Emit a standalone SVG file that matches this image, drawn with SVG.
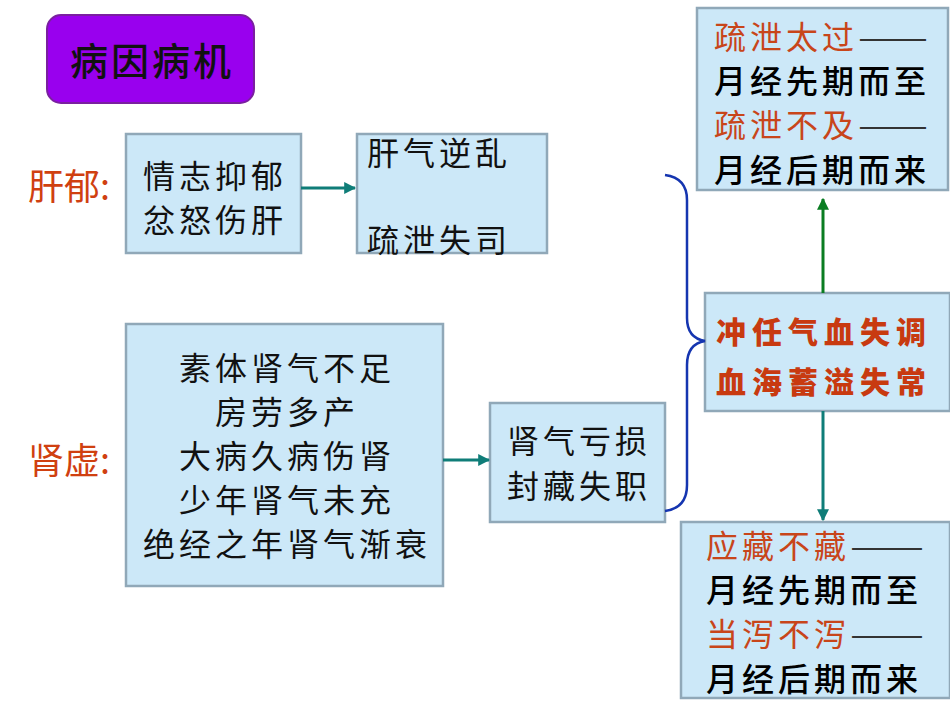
<svg xmlns="http://www.w3.org/2000/svg" width="950" height="713" viewBox="0 0 950 713">
<defs>
<style>
.b{fill:#cce8f8;stroke:#90a8b8;stroke-width:2.5}
text{font-family:"Noto Sans CJK SC","Noto Sans CJK JP",sans-serif}
.t{font-size:32px;fill:#111;letter-spacing:4px}
.r{font-size:32px;fill:#c8451a;letter-spacing:4px}
.d{fill:#333;letter-spacing:0}
.k{font-size:32px;fill:#000;font-weight:500;letter-spacing:4px}
.rb{font-size:30px;fill:#c83a10;font-weight:900;letter-spacing:6px}
</style>
<marker id="at" viewBox="0 0 10 10" refX="9" refY="5" markerWidth="4" markerHeight="4" orient="auto"><path d="M0,0L10,5L0,10z" fill="#0f7d78"/></marker>
<marker id="ag" viewBox="0 0 10 10" refX="9" refY="5" markerWidth="4" markerHeight="4" orient="auto"><path d="M0,0L10,5L0,10z" fill="#0a7d22"/></marker>
</defs>
<rect width="950" height="713" fill="#fff"/>
<g id="title"><rect x="47" y="15" width="207" height="88" rx="14" fill="#9900ee" stroke="#7a20a0" stroke-width="2"/><text x="152" y="75" text-anchor="middle" font-size="38" fill="#111" font-weight="500" letter-spacing="3">病因病机</text></g>
<g id="lbl1"><text x="28" y="200" font-size="36" fill="#d04010">肝郁:</text></g>
<g id="lbl2"><text x="28" y="474" font-size="36" fill="#d04010">肾虚:</text></g>
<g id="n1"><rect class="b" x="126" y="134" width="175" height="119"/><text class="t" x="215" y="188" text-anchor="middle">情志抑郁</text><text class="t" x="215" y="232" text-anchor="middle">忿怒伤肝</text></g>
<g id="n2"><rect class="b" x="357" y="134" width="190" height="119"/><text class="t" x="367" y="165">肝气逆乱</text><text class="t" x="367" y="252">疏泄失司</text></g>
<g id="n3"><rect class="b" x="126" y="324" width="317" height="262"/>
<text class="t" x="287" y="380" text-anchor="middle">素体肾气不足</text>
<text class="t" x="287" y="424" text-anchor="middle">房劳多产</text>
<text class="t" x="287" y="468" text-anchor="middle">大病久病伤肾</text>
<text class="t" x="287" y="512" text-anchor="middle">少年肾气未充</text>
<text class="t" x="287" y="556" text-anchor="middle">绝经之年肾气渐衰</text></g>
<g id="n4"><rect class="b" x="490" y="403" width="175" height="119"/><text class="t" x="579" y="453" text-anchor="middle">肾气亏损</text><text class="t" x="579" y="498" text-anchor="middle">封藏失职</text></g>
<g id="n5"><rect class="b" x="697" y="8" width="251" height="182"/>
<text class="r" x="714" y="49">疏泄太过<tspan class="d" textLength="70" lengthAdjust="spacingAndGlyphs">——</tspan></text>
<text class="k" x="714" y="93">月经先期而至</text>
<text class="r" x="714" y="137">疏泄不及<tspan class="d" textLength="70" lengthAdjust="spacingAndGlyphs">——</tspan></text>
<text class="k" x="714" y="182">月经后期而来</text></g>
<g id="n6"><rect class="b" x="705" y="293" width="245" height="118"/>
<text class="rb" x="716" y="343">冲任气血失调</text>
<text class="rb" x="716" y="393">血海蓄溢失常</text></g>
<g id="n7"><rect class="b" x="681" y="522" width="269" height="176"/>
<text class="r" x="706" y="558">应藏不藏<tspan class="d" textLength="74" lengthAdjust="spacingAndGlyphs">——</tspan></text>
<text class="k" x="706" y="602">月经先期而至</text>
<text class="r" x="706" y="646">当泻不泻<tspan class="d" textLength="74" lengthAdjust="spacingAndGlyphs">——</tspan></text>
<text class="k" x="706" y="691">月经后期而来</text></g>
<g id="connectors" fill="none">
<line x1="301" y1="188" x2="355" y2="188" stroke="#0f7d78" stroke-width="3" marker-end="url(#at)"/>
<line x1="443" y1="460" x2="489" y2="460" stroke="#0f7d78" stroke-width="3" marker-end="url(#at)"/>
<line x1="823" y1="293" x2="823" y2="199" stroke="#0a7d22" stroke-width="3" marker-end="url(#ag)"/>
<line x1="823" y1="411" x2="823" y2="520" stroke="#0f7d78" stroke-width="3" marker-end="url(#at)"/>
<path d="M665,175 Q687,178 687,200 L687,318 Q687,338 705,341 Q687,344 687,365 L687,485 Q687,508 665,511" stroke="#1535b0" stroke-width="2.5"/>
</g>
</svg>
